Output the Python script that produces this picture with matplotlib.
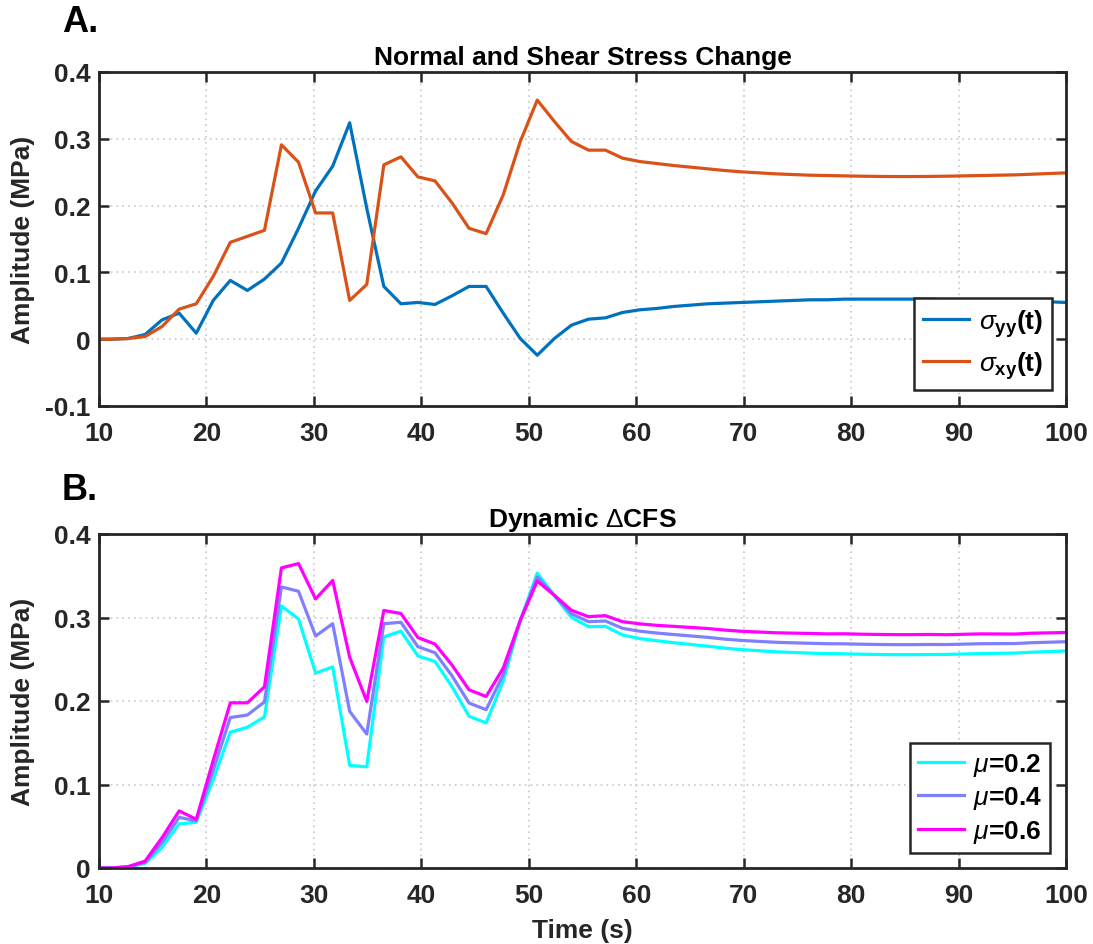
import matplotlib
matplotlib.use("Agg")
import matplotlib.pyplot as plt

plt.rcParams["font.family"] = ["Liberation Sans", "DejaVu Sans"]
plt.rcParams["font.weight"] = "bold"
plt.rcParams["mathtext.fontset"] = "custom"
plt.rcParams["mathtext.rm"] = "Liberation Sans:weight=normal"
plt.rcParams["mathtext.it"] = "Liberation Sans:style=italic:weight=normal"
plt.rcParams["mathtext.bf"] = "Liberation Sans:weight=bold"

# sample times (s)
t = [9.52, 11.11, 12.70, 14.29, 15.87, 17.46, 19.05, 20.63, 22.22, 23.81,
     25.40, 26.98, 28.57, 30.16, 31.75, 33.33, 34.92, 36.51, 38.10, 39.68,
     41.27, 42.86, 44.44, 46.03, 47.62, 49.21, 50.79, 52.38, 53.97, 55.56,
     57.14, 58.73, 60.32, 61.90, 63.49, 65.08, 66.67, 68.25, 69.84, 71.43,
     73.02, 74.60, 76.19, 77.78, 79.37, 80.95, 82.54, 84.13, 85.71, 87.30,
     88.89, 90.48, 92.06, 93.65, 95.24, 96.83, 98.41, 100.00]

# normal stress change sigma_yy (MPa)
syy = [0.000, 0.000, 0.001, 0.007, 0.029, 0.039, 0.009, 0.058, 0.088, 0.073,
       0.090, 0.114, 0.166, 0.222, 0.259, 0.324, 0.196, 0.079, 0.053, 0.055,
       0.052, 0.065, 0.079, 0.079, 0.039, 0.001, -0.024, 0.001, 0.021, 0.030,
       0.032, 0.040, 0.044, 0.046, 0.049, 0.051, 0.053, 0.054, 0.055, 0.056,
       0.057, 0.058, 0.059, 0.059, 0.060, 0.060, 0.060, 0.060, 0.060, 0.060,
       0.059, 0.059, 0.059, 0.058, 0.057, 0.057, 0.056, 0.055]

# shear stress change sigma_xy (MPa)
sxy = [0.000, 0.000, 0.001, 0.004, 0.019, 0.045, 0.053, 0.094, 0.145, 0.154,
       0.163, 0.291, 0.265, 0.189, 0.189, 0.058, 0.082, 0.261, 0.273, 0.243,
       0.237, 0.204, 0.166, 0.158, 0.216, 0.296, 0.358, 0.326, 0.296, 0.283,
       0.283, 0.271, 0.266, 0.263, 0.260, 0.2575, 0.255, 0.2525, 0.2505, 0.249,
       0.2475, 0.2465, 0.2455, 0.245, 0.2445, 0.244, 0.2437, 0.2435, 0.2435, 0.2437,
       0.244, 0.2445, 0.245, 0.2455, 0.246, 0.247, 0.248, 0.249]

# dynamic CFS for three friction coefficients (MPa)
cfs_02 = [0.0, 0.0, 0.0012, 0.0054, 0.0248, 0.0528, 0.0548, 0.1056, 0.1626, 0.1686,
          0.181, 0.3138, 0.2982, 0.2334, 0.2408, 0.1228, 0.1212, 0.2768, 0.2836, 0.254,
          0.2474, 0.217, 0.1818, 0.1738, 0.2238, 0.2962, 0.3532, 0.3262, 0.3002, 0.289,
          0.2894, 0.279, 0.2748, 0.2722, 0.2698, 0.2677, 0.2656, 0.2633, 0.2615, 0.2602,
          0.2589, 0.2581, 0.2573, 0.2568, 0.2565, 0.256, 0.2557, 0.2555, 0.2555, 0.2557,
          0.2558, 0.2563, 0.2568, 0.2571, 0.2574, 0.2584, 0.2592, 0.26]
cfs_04 = [0.0, 0.0, 0.0014, 0.0068, 0.0306, 0.0606, 0.0566, 0.1172, 0.1802, 0.1832,
          0.199, 0.3366, 0.3314, 0.2778, 0.2926, 0.1876, 0.1604, 0.2926, 0.2942, 0.265,
          0.2578, 0.23, 0.1976, 0.1896, 0.2316, 0.2964, 0.3484, 0.3264, 0.3044, 0.295,
          0.2958, 0.287, 0.2836, 0.2814, 0.2796, 0.2779, 0.2762, 0.2741, 0.2725, 0.2714,
          0.2703, 0.2697, 0.2691, 0.2686, 0.2685, 0.268, 0.2677, 0.2675, 0.2675, 0.2677,
          0.2676, 0.2681, 0.2686, 0.2687, 0.2688, 0.2698, 0.2704, 0.271]
cfs_06 = [0.0, 0.0, 0.0016, 0.0082, 0.0364, 0.0684, 0.0584, 0.1288, 0.1978, 0.1978,
          0.217, 0.3594, 0.3646, 0.3222, 0.3444, 0.2524, 0.1996, 0.3084, 0.3048, 0.276,
          0.2682, 0.243, 0.2134, 0.2054, 0.2394, 0.2966, 0.3436, 0.3266, 0.3086, 0.301,
          0.3022, 0.295, 0.2924, 0.2906, 0.2894, 0.2881, 0.2868, 0.2849, 0.2835, 0.2826,
          0.2817, 0.2813, 0.2809, 0.2804, 0.2805, 0.28, 0.2797, 0.2795, 0.2795, 0.2797,
          0.2794, 0.2799, 0.2804, 0.2803, 0.2802, 0.2812, 0.2816, 0.282]

xticks = [10, 20, 30, 40, 50, 60, 70, 80, 90, 100]
frame_col = "#262626"
fs = 19

W, H = 1093, 945
fig = plt.figure(figsize=(W / 100, H / 100), dpi=100)
ax1 = fig.add_axes([99 / W, 1 - 407 / H, 967 / W, 334 / H])
ax2 = fig.add_axes([99 / W, 1 - 869 / H, 967 / W, 334 / H])


def style(ax):
    ax.set_xlim(10, 100)
    ax.set_xticks(xticks)
    ax.grid(True, linestyle=(0, (1, 2.5)), color="#c8c8c8", linewidth=1.2)
    ax.set_axisbelow(True)
    ax.tick_params(direction="in", length=7, width=1.8, top=True, right=True,
                   labelsize=fs, colors=frame_col)
    ax.tick_params(axis="x", pad=11)
    ax.tick_params(axis="y", pad=6)
    for lab in ax.get_xticklabels() + ax.get_yticklabels():
        lab.set_fontweight("bold")
        lab.set_color(frame_col)
    for sp in ax.spines.values():
        sp.set_linewidth(2.0)
        sp.set_color(frame_col)
    ax.set_ylabel("Amplitude (MPa)", fontsize=fs, fontweight="bold", color=frame_col)
    ax.yaxis.set_label_coords(-64 / 967, 0.5)


def frame_legend(leg):
    leg.get_frame().set_edgecolor(frame_col)
    leg.get_frame().set_linewidth(1.8)


ax1.plot(t, syy, color="#0072BD", lw=2.3, label=r"$\sigma_{\mathbf{yy}}$(t)")
ax1.plot(t, sxy, color="#D95319", lw=2.3, label=r"$\sigma_{\mathbf{xy}}$(t)")
ax1.set_ylim(-0.1, 0.4)
ax1.set_yticks([-0.1, 0, 0.1, 0.2, 0.3, 0.4])
ax1.set_yticklabels(["-0.1", "0", "0.1", "0.2", "0.3", "0.4"])
style(ax1)
ax1.set_title("Normal and Shear Stress Change", fontsize=fs, fontweight="bold", pad=6)
leg1 = ax1.legend(loc="lower right", bbox_to_anchor=(1 - 14 / 967, 16 / 334),
                  borderaxespad=0, fancybox=False, framealpha=1, fontsize=19,
                  handlelength=1.75, handletextpad=0.35, borderpad=0.35, labelspacing=0.4)
frame_legend(leg1)

ax2.plot(t, cfs_02, color="#00FFFF", lw=2.3, label=r"$\mu$=0.2")
ax2.plot(t, cfs_04, color="#8080FF", lw=2.3, label=r"$\mu$=0.4")
ax2.plot(t, cfs_06, color="#FF00FF", lw=2.3, label=r"$\mu$=0.6")
ax2.set_ylim(0, 0.4)
ax2.set_yticks([0, 0.1, 0.2, 0.3, 0.4])
ax2.set_yticklabels(["0", "0.1", "0.2", "0.3", "0.4"])
style(ax2)
ax2.set_title(r"Dynamic $\Delta$CFS", fontsize=fs, fontweight="bold", pad=6)
ax2.set_xlabel("Time (s)", fontsize=fs, fontweight="bold", color=frame_col, labelpad=8)
leg2 = ax2.legend(loc="lower right", bbox_to_anchor=(1 - 16 / 967, 15 / 334),
                  borderaxespad=0, fancybox=False, framealpha=1, fontsize=19,
                  handlelength=1.75, handletextpad=0.35, borderpad=0.3, labelspacing=0.25)
frame_legend(leg2)

fig.text(80 / W, 1 - 23 / H, "A.", fontsize=26, fontweight="bold", ha="center", va="center")
fig.text(80 / W, 1 - 491 / H, "B.", fontsize=26, fontweight="bold", ha="center", va="center")

fig.savefig("out.png", dpi=100)
